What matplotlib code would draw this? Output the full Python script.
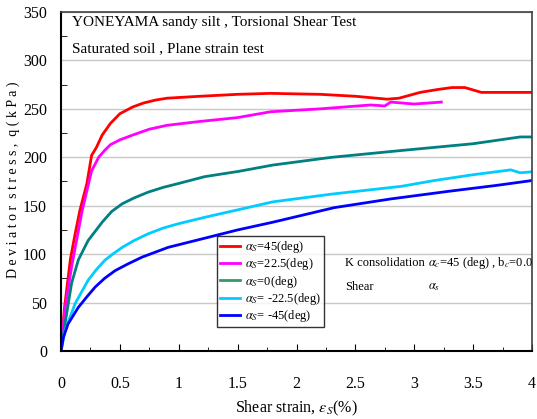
import matplotlib
matplotlib.use("Agg")
import matplotlib.pyplot as plt
from matplotlib.ticker import MultipleLocator

plt.rcParams['font.family'] = ['Liberation Serif', 'DejaVu Serif']
plt.rcParams['mathtext.fontset'] = 'stix'

# Data (shear strain %, deviator stress kPa)
e_45 = [0, 0.03, 0.08, 0.12, 0.16, 0.22, 0.26, 0.3, 0.35, 0.42, 0.5, 0.61, 0.7, 0.8, 0.9, 1.18, 1.5, 1.78,
        2.2, 2.5, 2.77, 2.87, 3.05, 3.2, 3.32, 3.43, 3.57, 3.8, 4.0]
q_45 = [0, 45, 95, 121, 145, 173, 202, 210, 223, 235, 245, 252, 256, 259, 261, 263, 265, 266,
        265, 263, 260, 261, 267, 270, 272, 272, 267, 267, 267]

e_225 = [0, 0.03, 0.09, 0.18, 0.26, 0.32, 0.37, 0.42, 0.5, 0.61, 0.75, 0.9, 1.18, 1.5, 1.78, 2.2, 2.63, 2.75, 2.8, 3.0, 3.23]
q_225 = [0, 40, 87, 145, 186, 200, 207, 213, 218, 223, 229, 233, 237, 241, 247, 250, 254, 253, 257, 255, 257]

e_0 = [0, 0.034, 0.09, 0.147, 0.23, 0.35, 0.43, 0.52, 0.62, 0.74, 0.87, 1.0, 1.22, 1.51, 1.8, 2.3, 2.89, 3.5, 3.9, 4.0]
q_0 = [0, 28, 70, 94, 114, 133, 144, 152, 158, 164, 169, 173, 180, 185.5, 192, 200, 207, 214, 221, 221]

e_m225 = [0, 0.034, 0.12, 0.23, 0.3, 0.375, 0.45, 0.52, 0.62, 0.74, 0.87, 1.0, 1.22, 1.51, 1.8, 2.3, 2.89, 3.17, 3.5, 3.82, 3.9, 4.0]
q_m225 = [0, 21, 49, 73, 84, 94, 101, 107, 114, 121, 127, 131.5, 138, 146, 154, 162, 170, 176, 182, 187, 184, 185]

e_m45 = [0, 0.02, 0.06, 0.147, 0.22, 0.29, 0.37, 0.46, 0.57, 0.69, 0.8, 0.91, 1.14, 1.5, 1.8, 2.32, 2.8, 3.3, 3.7, 4.0]
q_m45 = [0, 14, 28, 45, 56, 66, 75, 83, 90, 97, 102, 107, 114, 125, 133, 148, 157, 165, 171, 176]

labels = [r'$\alpha_S$=45(deg)', r'$\alpha_S$=22.5(deg)', r'$\alpha_S$=0(deg)',
          r'$\alpha_S$= -22.5(deg)', r'$\alpha_S$= -45(deg)']
colors = ['#FF0000', '#FF00FF', '#008080', '#00CCFF', '#0000FF']

fig = plt.figure(figsize=(5.37, 4.19), dpi=100)
ax = fig.add_axes([61/537, 68/419, 471/537, 339/419])

series = [(e_45, q_45), (e_225, q_225), (e_0, q_0), (e_m225, q_m225), (e_m45, q_m45)]
for (x, y), c, lab in zip(series, colors, labels):
    ax.plot(x, y, color=c, lw=2, label=lab, solid_joinstyle='round')

ax.set_xlim(0, 4)
ax.set_ylim(0, 350)
ax.xaxis.set_major_locator(MultipleLocator(0.5))
ax.xaxis.set_minor_locator(MultipleLocator(0.25))
ax.yaxis.set_major_locator(MultipleLocator(50))
ax.yaxis.set_minor_locator(MultipleLocator(25))
ax.set_xticks([0, 0.5, 1, 1.5, 2, 2.5, 3, 3.5, 4])
ax.set_xticklabels(['0', '0.5', '1', '1.5', '2', '2.5', '3', '3.5', '4'])
ax.grid(axis='y', which='major', color='#c8c8c8', lw=1)
ax.set_axisbelow(True)
ax.tick_params(axis='x', which='both', direction='in', labelsize=11.5, pad=18)
ax.tick_params(axis='x', which='major', length=5)
ax.tick_params(axis='x', which='minor', length=3)
ax.tick_params(axis='y', which='both', direction='in', labelsize=11.5, pad=10)
ax.tick_params(axis='y', which='major', length=0)
ax.tick_params(axis='y', which='minor', length=4)
for s in ['left', 'bottom']:
    ax.spines[s].set_linewidth(1.5)
    ax.spines[s].set_color('black')
for s in ['top', 'right']:
    ax.spines[s].set_linewidth(1.2)
    ax.spines[s].set_color('#404040')

ax.set_xlabel(r'Shear strain, $\varepsilon_S$(%)', fontsize=11.5, labelpad=5)
ax.set_ylabel('D e v i a t o r  s t r e s s ,  q ( k P a )', fontsize=10)
ax.yaxis.set_label_coords(-0.088, 0.504)

ax.text(0.094, 339, 'YONEYAMA sandy silt , Torsional Shear Test', fontsize=11, va='center')
ax.text(0.094, 312, 'Saturated soil , Plane strain test', fontsize=11, va='center')
ax.text(2.415, 90.5, 'K consolidation', fontsize=9, va='center')
ax.text(3.12, 90.5, r'$\alpha_c$=45 (deg) , b$_c$=0.0', fontsize=9, va='center')
ax.text(2.415, 66, 'Shear', fontsize=9, va='center')
ax.text(3.12, 66, r'$\alpha_s$', fontsize=9, va='center')

leg = ax.legend(loc='upper left', bbox_to_anchor=(0.332, 0.339), borderaxespad=0,
                fontsize=9, frameon=True, fancybox=False, edgecolor='black',
                handlelength=1.6, handletextpad=0.4, labelspacing=0.1, borderpad=0.25)
leg.get_frame().set_linewidth(1.0)
leg.legend_handles[2].set_color('#339966')

fig.savefig('out.png', dpi=100)
